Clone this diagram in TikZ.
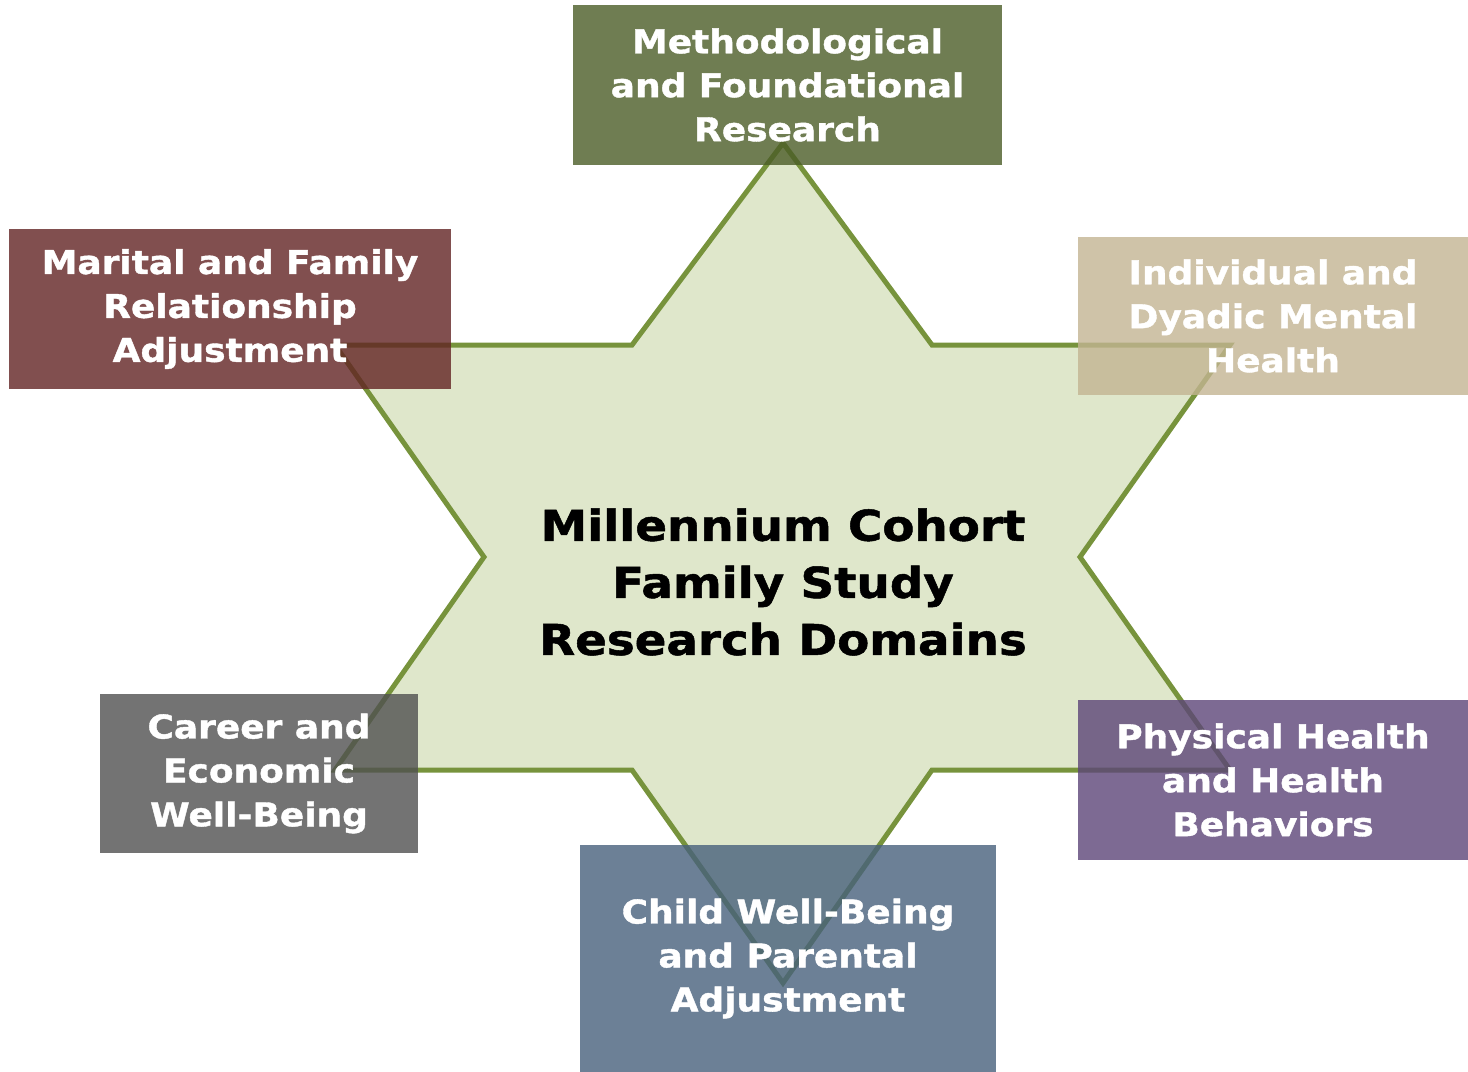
\documentclass[tikz,border=0pt]{standalone}
\usepackage{fontspec}
\setmainfont[FakeStretch=1.1, BoldFeatures={FakeBold=1.2}]{DejaVu Sans}
\usetikzlibrary{positioning}
\definecolor{starfill}{HTML}{DFE7CB}
\definecolor{starline}{HTML}{77933C}
\definecolor{methcol}{HTML}{4B5C27}
\definecolor{mentcol}{HTML}{C3B492}
\definecolor{marcol}{HTML}{622323}
\definecolor{carcol}{HTML}{505050}
\definecolor{childcol}{HTML}{47607C}
\definecolor{physcol}{HTML}{5C4578}
\tikzset{
		domainbox/.style={rectangle, inner sep=0pt, align=center,
			fill opacity=0.8, text opacity=1, text=white,
			font=\fontsize{18.6}{25}\selectfont\bfseries}
	}

\begin{document}
\begin{tikzpicture}[x=0.02cm, y=-0.02cm]
          \useasboundingbox (0,0) rectangle (1468,1072);

          % star points and notches
          \coordinate (T) at (783,143);
          \coordinate (TR) at (932,345);
          \coordinate (UR) at (1230,345);
          \coordinate (R) at (1080,557);
          \coordinate (LR) at (1230,770);
          \coordinate (BR) at (932,770);
          \coordinate (B) at (783,983);
          \coordinate (BL) at (632,770);
          \coordinate (LL) at (335,770);
          \coordinate (L) at (484,557);
          \coordinate (UL) at (335,345);
          \coordinate (TL) at (632,345);

          \draw[starline, fill=starfill, line width=0.1cm, line join=miter]
            (T) -- (TR) -- (UR) -- (R) -- (LR) -- (BR) -- (B)
            -- (BL) -- (LL) -- (L) -- (UL) -- (TL) -- cycle;

          \node[font=\fontsize{24.2}{32.5}\selectfont\bfseries, align=center]
            (title) at (783,582) {Millennium Cohort\\Family Study\\Research Domains};

          \node[domainbox, fill=methcol, minimum width=8.58cm, minimum height=3.2cm]
            (meth) at (787.5,85) {Methodological\\and Foundational\\Research};
          \node[domainbox, fill=mentcol, minimum width=7.8cm, minimum height=3.16cm]
            (ment) at (1273,316) {Individual and\\Dyadic Mental\\Health};
          \node[domainbox, fill=marcol, minimum width=8.84cm, minimum height=3.2cm]
            (mar) at (230,309) {Marital and Family\\Relationship\\Adjustment};
          \node[domainbox, fill=carcol, minimum width=6.36cm, minimum height=3.18cm]
            (car) at (259,773.5) {Career and\\Economic\\Well-Being};
          \node[domainbox, fill=childcol, minimum width=8.32cm, minimum height=4.54cm]
            (child) at (788,958.5) {Child Well-Being\\and Parental\\Adjustment};
          \node[domainbox, fill=physcol, minimum width=7.8cm, minimum height=3.2cm]
            (phys) at (1273,780) {Physical Health\\and Health\\Behaviors};

          \end{tikzpicture}
\end{document}
